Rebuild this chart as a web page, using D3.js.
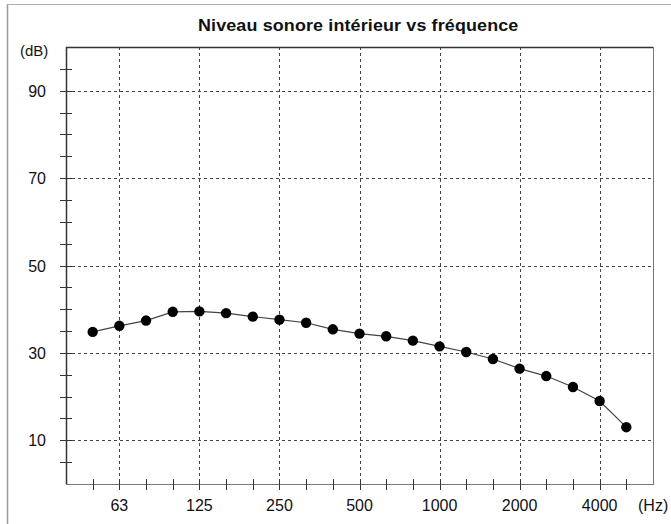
<!DOCTYPE html>
<html>
<head>
<meta charset="utf-8">
<script src="https://cdn.jsdelivr.net/npm/d3@7"></script>
<style>
  body { margin: 0; background: #fff; }
  svg { display: block; font-family: "Liberation Sans", Arial, sans-serif; }
</style>
</head>
<body>
<div id="chart"></div>
<script>
// Bandes de tiers d'octave (Hz) et niveaux mesurés (dB)
const bands = ['50', '63', '80', '100', '125', '160', '200', '250', '315', '400', '500',
  '630', '800', '1000', '1250', '1600', '2000', '2500', '3150', '4000', '5000'];
const levels = [34.8, 36.2, 37.4, 39.4, 39.5, 39.1, 38.3, 37.6, 36.9, 35.4, 34.4,
  33.8, 32.8, 31.5, 30.2, 28.6, 26.4, 24.7, 22.2, 19.0, 13.0];
const xLabels = ['63', '125', '250', '500', '1000', '2000', '4000'];
const yLabels = [10, 30, 50, 70, 90];
const yMinor = d3.range(5, 100, 5);

const width = 671, height = 524;
const margin = { top: 47, right: 18, bottom: 40, left: 66 };

const svg = d3.select('#chart')
    .append('svg')
    .attr('width', width)
    .attr('height', height);

// cadre extérieur
svg.append('line').attr('x1', 7.5).attr('x2', 7.5).attr('y1', 4).attr('y2', height)
    .attr('stroke', '#9a9a9a').attr('stroke-width', 1.5);
svg.append('line').attr('x1', 7).attr('x2', width).attr('y1', 4.5).attr('y2', 4.5)
    .attr('stroke', '#b0b0b0').attr('stroke-width', 1);

const x = d3.scalePoint()
    .domain(bands)
    .range([margin.left, width - margin.right])
    .padding(1);

const y = d3.scaleLinear()
    .domain([0, 100])
    .range([height - margin.bottom, margin.top]);

const x0 = margin.left, x1 = width - margin.right;
const y0 = height - margin.bottom, y1 = margin.top;

// titre (un peu étiré comme sur le scan)
svg.append('text')
    .attr('transform', 'translate(198,31) scale(1.12,1)')
    .attr('font-size', '16px')
    .attr('font-weight', 'bold')
    .attr('fill', '#111')
    .attr('textLength', 286)
    .attr('lengthAdjust', 'spacing')
    .text('Niveau sonore intérieur vs fréquence');

// grille
const grid = svg.append('g')
    .attr('stroke', '#444')
    .attr('stroke-width', 1)
    .attr('stroke-dasharray', '3,3');

grid.selectAll('line.h')
    .data(yLabels)
    .join('line')
    .attr('class', 'h')
    .attr('x1', x0).attr('x2', x1)
    .attr('y1', d => Math.round(y(d)) + 0.5)
    .attr('y2', d => Math.round(y(d)) + 0.5);

grid.selectAll('line.v')
    .data(xLabels)
    .join('line')
    .attr('class', 'v')
    .attr('x1', d => Math.round(x(d)) + 0.5)
    .attr('x2', d => Math.round(x(d)) + 0.5)
    .attr('y1', y1).attr('y2', y0);

// cadre du graphique
svg.append('rect')
    .attr('x', x0 + 0.5).attr('y', y1 + 0.5)
    .attr('width', x1 - x0).attr('height', y0 - y1)
    .attr('fill', 'none')
    .attr('stroke', '#777')
    .attr('stroke-width', 1);
svg.append('line').attr('x1', x0 + 0.5).attr('x2', x0 + 0.5).attr('y1', y1).attr('y2', y0)
    .attr('stroke', '#333').attr('stroke-width', 1.5);
svg.append('line').attr('x1', x0).attr('x2', x1).attr('y1', y1 + 0.5).attr('y2', y1 + 0.5)
    .attr('stroke', '#333').attr('stroke-width', 1.5);

// graduations
svg.append('g')
    .selectAll('line')
    .data(yMinor)
    .join('line')
    .attr('x1', x0 - 6).attr('x2', x0 + 6)
    .attr('y1', d => Math.round(y(d)) + 0.5)
    .attr('y2', d => Math.round(y(d)) + 0.5)
    .attr('stroke', '#333');

svg.append('g')
    .selectAll('line')
    .data(bands)
    .join('line')
    .attr('x1', d => Math.round(x(d)) + 0.5)
    .attr('x2', d => Math.round(x(d)) + 0.5)
    .attr('y1', y0 - 5).attr('y2', y0 + 6)
    .attr('stroke', '#333');

// étiquettes
svg.append('g')
    .selectAll('text')
    .data(yLabels)
    .join('text')
    .attr('x', 46)
    .attr('y', d => y(d) + 6)
    .attr('text-anchor', 'end')
    .attr('font-size', '16px')
    .attr('fill', '#111')
    .text(d => d);

svg.append('text')
    .attr('x', 20).attr('y', 56)
    .attr('font-size', '15px')
    .attr('fill', '#111')
    .text('(dB)');

svg.append('g')
    .selectAll('text')
    .data(xLabels)
    .join('text')
    .attr('x', d => x(d))
    .attr('y', 511)
    .attr('text-anchor', 'middle')
    .attr('font-size', '16px')
    .attr('fill', '#111')
    .text(d => d);

svg.append('text')
    .attr('x', 638).attr('y', 511)
    .attr('font-size', '16px')
    .attr('fill', '#111')
    .text('(Hz)');

// courbe
const line = d3.line()
    .x((d, i) => x(bands[i]))
    .y(d => y(d));

svg.append('path')
    .datum(levels)
    .attr('d', line)
    .attr('fill', 'none')
    .attr('stroke', '#444')
    .attr('stroke-width', 1.2);

svg.append('g')
    .selectAll('circle')
    .data(levels)
    .join('circle')
    .attr('cx', (d, i) => x(bands[i]))
    .attr('cy', d => y(d))
    .attr('r', 5.2)
    .attr('fill', '#000');
</script>
</body>
</html>
